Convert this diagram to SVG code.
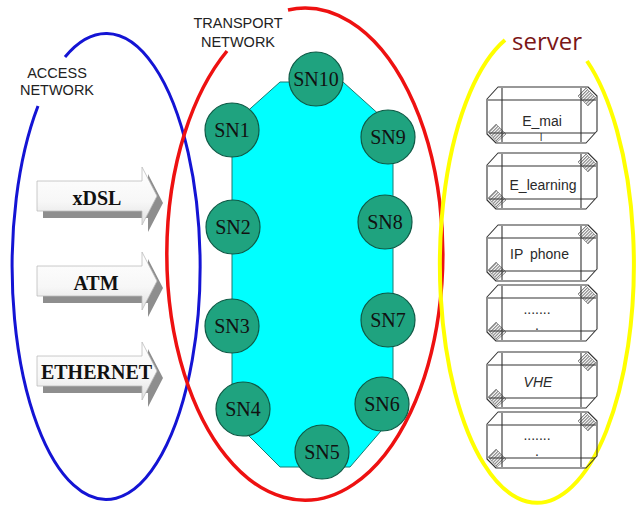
<svg xmlns="http://www.w3.org/2000/svg" xmlns:xlink="http://www.w3.org/1999/xlink" width="637" height="505" viewBox="0 0 637 505">
<style>
  .lbl { font-family: "Liberation Sans", Arial, sans-serif; font-size: 14.5px; fill: #222; text-anchor: middle; }
  .sn circle { fill: #1fa37f; stroke: #0e5a46; stroke-width: 1.2; }
  .sn text { font-family: "Liberation Serif", "Times New Roman", serif; font-size: 20px; fill: #111; text-anchor: middle; }
  .arrFront { fill: url(#arrGrad); stroke: #bdbdbd; stroke-width: 0.8; }
  .arrShadow { fill: #8e8e8e; stroke: none; }
  .arrText { font-family: "Liberation Serif", "Times New Roman", serif; font-size: 20px; font-weight: bold; fill: #111; text-anchor: middle; }
  .boxline { fill: none; stroke: #333; stroke-width: 1.1; stroke-linejoin: round; }
  .hatch { fill: url(#hatch); stroke: #555; stroke-width: 0.5; }
  .btxt { font-family: "Liberation Sans", Arial, sans-serif; font-size: 14px; fill: #2a2a2a; text-anchor: middle; }
</style>
<defs>
  <linearGradient id="arrGrad" x1="0" y1="0" x2="0" y2="1">
    <stop offset="0" stop-color="#ffffff"/>
    <stop offset="0.6" stop-color="#f7f7f7"/>
    <stop offset="1" stop-color="#e0e0e0"/>
  </linearGradient>
  <pattern id="hatch" patternUnits="userSpaceOnUse" width="2.2" height="2.2" patternTransform="rotate(45)">
    <rect width="2.2" height="2.2" fill="#fff"/>
    <line x1="0.5" y1="0" x2="0.5" y2="2.2" stroke="#555" stroke-width="0.8"/>
  </pattern>
  <path id="arr" d="M0,0 H105 V-14 L120,15 L105,44 V30 H0 Z"/>
  <g id="box">
    <path class="boxline" d="M11,0 H101 L110,9 V44 L99,56 H9 L0,47 V12 Z" fill="#fff"/>
    <polygon class="hatch" points="99,1 109,11 101,19 91,9"/>
    <polygon class="hatch" points="1,45 9,37 19,47 10,55"/>
    <path class="boxline" d="M1,13 H109 M2,46 H108 M15,1 V55 M94,1 V55"/>
  </g>
</defs>

<g id="ellipses">
  <g id="access-network">
    <path d="M65,57 A94 233 0 1 1 38,106" fill="none" stroke="#1414d4" stroke-width="3"/>
    <text class="lbl" x="57" y="78">ACCESS</text>
    <text class="lbl" x="57" y="95">NETWORK</text>
  </g>
  <g id="transport-network">
    <path d="M288,10 A138 246 0 1 1 227,51" fill="none" stroke="#ee1111" stroke-width="3.5"/>
    <text class="lbl" x="238" y="28">TRANSPORT</text>
    <text class="lbl" x="238" y="47">NETWORK</text>
  </g>
  <g id="server-area">
    <path d="M587,61 A97 238 0 1 1 505,40" fill="none" stroke="#ffff00" stroke-width="4"/>
    <text x="547" y="50" style="font-family:'Open Sans','DejaVu Sans',sans-serif;font-size:24px;fill:#7b1616;text-anchor:middle">server</text>
  </g>
</g>

<g id="connectors"></g>

<g id="ring">
  <polygon points="280,82 343,82 393,127 393,417 350,467 280,467 232,419 232,125" fill="#00ffff" stroke="#1a7a70" stroke-width="1"/>
</g>

<g id="SN10" class="sn"><circle cx="316" cy="79" r="27"/><text x="316" y="86">SN10</text></g>
<g id="SN1" class="sn"><circle cx="232" cy="130" r="27"/><text x="232" y="137">SN1</text></g>
<g id="SN9" class="sn"><circle cx="388" cy="137" r="27"/><text x="388" y="144">SN9</text></g>
<g id="SN2" class="sn"><circle cx="233" cy="227" r="27"/><text x="233" y="234">SN2</text></g>
<g id="SN8" class="sn"><circle cx="385" cy="222" r="27"/><text x="385" y="229">SN8</text></g>
<g id="SN3" class="sn"><circle cx="232" cy="326" r="27"/><text x="232" y="333">SN3</text></g>
<g id="SN7" class="sn"><circle cx="388" cy="320" r="27"/><text x="388" y="327">SN7</text></g>
<g id="SN4" class="sn"><circle cx="243" cy="409" r="27"/><text x="243" y="416">SN4</text></g>
<g id="SN6" class="sn"><circle cx="382" cy="404" r="27"/><text x="382" y="411">SN6</text></g>
<g id="SN5" class="sn"><circle cx="322" cy="452" r="27"/><text x="322" y="459">SN5</text></g>

<g id="arrow-xDSL" transform="translate(37,181)">
  <use xlink:href="#arr" class="arrShadow" transform="translate(6,7)"/>
  <use xlink:href="#arr" class="arrFront"/>
  <text class="arrText" x="60" y="24">xDSL</text>
</g>
<g id="arrow-ATM" transform="translate(37,266)">
  <use xlink:href="#arr" class="arrShadow" transform="translate(6,7)"/>
  <use xlink:href="#arr" class="arrFront"/>
  <text class="arrText" x="59" y="24">ATM</text>
</g>
<g id="arrow-ETHERNET" transform="translate(37,356)">
  <use xlink:href="#arr" class="arrShadow" transform="translate(6,7)"/>
  <use xlink:href="#arr" class="arrFront"/>
  <text class="arrText" x="59.5" y="23">ETHERNET</text>
</g>

<g id="srv-email" transform="translate(487,87)">
  <use xlink:href="#box"/>
  <text class="btxt" x="55" y="39">E_mai</text>
  <text class="btxt" style="font-size:10px" x="54" y="54">l</text>
</g>
<g id="srv-elearning" transform="translate(487,153)">
  <use xlink:href="#box"/>
  <text class="btxt" x="56" y="37">E_learning</text>
</g>
<g id="srv-ipphone" transform="translate(487,225)">
  <use xlink:href="#box"/>
  <text class="btxt" style="text-anchor:start" x="23" y="34">IP<tspan x="43">phone</tspan></text>
</g>
<g id="srv-dots1" transform="translate(487,285)">
  <use xlink:href="#box"/>
  <text class="btxt" x="50" y="29">.......</text>
  <text class="btxt" x="50" y="45">.</text>
</g>
<g id="srv-vhe" transform="translate(487,352)">
  <use xlink:href="#box"/>
  <text class="btxt" style="font-style:italic" x="51" y="35">VHE</text>
</g>
<g id="srv-dots2" transform="translate(487,412)">
  <use xlink:href="#box"/>
  <text class="btxt" x="50" y="28">.......</text>
  <text class="btxt" x="50" y="44">.</text>
</g>
</svg>
